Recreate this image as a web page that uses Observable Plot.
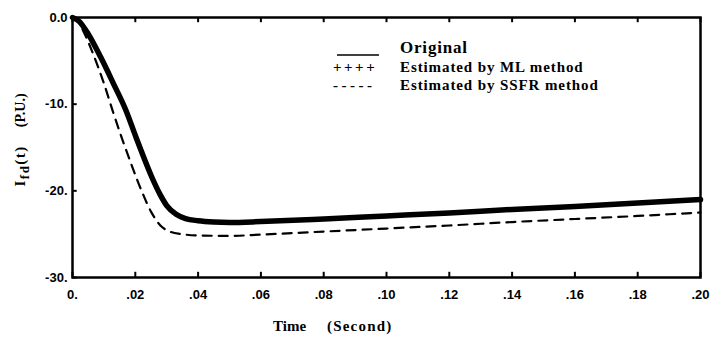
<!DOCTYPE html>
<html>
<head>
<meta charset="utf-8">
<script src="https://cdn.jsdelivr.net/npm/d3@7"></script>
<script src="https://cdn.jsdelivr.net/npm/@observablehq/plot@0.6"></script>
<style>
  body { margin: 0; background: #fff; }
  #chart svg { display: block; }
</style>
</head>
<body>
<div id="chart"></div>
<script>
// Field current I_fd(t) after the disturbance, in per unit, over 0–0.2 s.
const time = [0, 0.002, 0.005, 0.009, 0.013, 0.017, 0.020, 0.022, 0.025, 0.028, 0.030, 0.033, 0.036, 0.040, 0.045, 0.050, 0.060, 0.080, 0.100, 0.120, 0.140, 0.160, 0.180, 0.200];
const original = [0, -0.4, -1.9, -4.6, -7.6, -10.7, -13.6, -15.5, -18.2, -20.5, -21.7, -22.7, -23.2, -23.45, -23.6, -23.65, -23.55, -23.25, -22.9, -22.55, -22.15, -21.8, -21.4, -21.0];
const mlEstimate = [0, -0.4, -1.9, -4.6, -7.6, -10.7, -13.6, -15.5, -18.2, -20.5, -21.7, -22.7, -23.2, -23.45, -23.6, -23.65, -23.55, -23.25, -22.9, -22.55, -22.15, -21.8, -21.4, -21.0];

const ssfrTime = [0, 0.002, 0.004, 0.007, 0.010, 0.013, 0.016, 0.019, 0.022, 0.025, 0.028, 0.031, 0.035, 0.040, 0.050, 0.060, 0.080, 0.100, 0.120, 0.140, 0.160, 0.180, 0.200];
const ssfrEstimate = [0, -0.6, -2.0, -4.6, -7.6, -11.0, -14.2, -17.2, -20.0, -22.4, -24.0, -24.7, -25.0, -25.15, -25.2, -25.05, -24.7, -24.35, -24.0, -23.6, -23.25, -22.9, -22.5];

// Axis ticks and their printed labels
const xTicks = [0, 0.02, 0.04, 0.06, 0.08, 0.10, 0.12, 0.14, 0.16, 0.18, 0.20];
const xTickLabels = ["0.", ".02", ".04", ".06", ".08", ".10", ".12", ".14", ".16", ".18", ".20"];
const yTicks = [0, -10, -20, -30];
const yTickLabels = ["0.0", "-10.", "-20.", "-30."];

const legendLabels = ["Original", "Estimated by ML method", "Estimated by SSFR method"];
const legendSymbols = ["", "++++", "-----"];
const xTitle = ["Time", "(Second)"];
const yTitle = ["I", "fd", "(t)", "(P.U.)"];

const xDomain = [0, 0.2];
const yDomain = [-30, 0];

const rows = (ts, vs) => ts.map((t, i) => ({t, v: vs[i]}));
const sans = "'Liberation Sans', Arial, sans-serif";
const serif = "'Liberation Serif', 'Times New Roman', serif";

const plot = Plot.plot({
  width: 714,
  height: 341,
  marginLeft: 72,
  marginRight: 14,
  marginTop: 17,
  marginBottom: 64,
  style: {fontFamily: sans, fontSize: "13px", fontWeight: "bold", color: "#000", background: "#fff"},
  x: {domain: xDomain, ticks: xTicks, tickFormat: d => xTickLabels[xTicks.indexOf(d)], tickSize: 0, tickPadding: 12, label: null},
  y: {domain: yDomain, ticks: yTicks, tickFormat: d => yTickLabels[yTicks.indexOf(d)], tickSize: 0, tickPadding: 5, label: null},
  marks: [
    // SSFR estimate: dashed
    Plot.line(rows(ssfrTime, ssfrEstimate), {x: "t", y: "v", stroke: "#000", strokeWidth: 2.2, strokeDasharray: "9,7", curve: "monotone-x"}),
    // ML estimate: dense crosses merge into a heavy band
    Plot.line(rows(time, mlEstimate), {x: "t", y: "v", stroke: "#000", strokeWidth: 5.5, curve: "monotone-x"}),
    // Original response: solid
    Plot.line(rows(time, original), {x: "t", y: "v", stroke: "#000", strokeWidth: 2, curve: "monotone-x"}),
    // plot box
    Plot.frame({stroke: "#000", strokeWidth: 2.5}),
    // inward tick marks
    Plot.ruleX(xTicks, {x: d => d, y1: yDomain[0], y2: yDomain[0] + 0.6, stroke: "#000", strokeWidth: 2}),
    Plot.ruleX(xTicks, {x: d => d, y1: yDomain[1], y2: yDomain[1] - 0.6, stroke: "#000", strokeWidth: 2}),
    Plot.ruleY(yTicks, {y: d => d, x1: xDomain[0], x2: xDomain[0] + 0.0015, stroke: "#000", strokeWidth: 2})
  ]
});
document.getElementById("chart").appendChild(plot);

const svg = d3.select(plot);

// x-axis title
const xt = svg.append("text")
  .attr("y", 331)
  .attr("text-anchor", "start")
  .attr("font-family", serif)
  .attr("font-size", 15)
  .attr("font-weight", "bold")
  .attr("fill", "#000");
xt.append("tspan").attr("x", 273).text(xTitle[0]);
xt.append("tspan").attr("x", 327).attr("letter-spacing", 1.2).text(xTitle[1]);

// y-axis title, rotated, with subscript
const yt = svg.append("text")
  .attr("transform", "translate(25,140) rotate(-90)")
  .attr("text-anchor", "middle")
  .attr("font-family", serif)
  .attr("font-size", 15)
  .attr("font-weight", "bold")
  .attr("letter-spacing", 1.5)
  .attr("fill", "#000");
yt.append("tspan").text(yTitle[0]);
yt.append("tspan").attr("font-size", 13).attr("dy", 4).text(yTitle[1]);
yt.append("tspan").attr("dy", -4).text(yTitle[2]);
yt.append("tspan").attr("dx", 18).attr("font-size", 14).attr("letter-spacing", 0).text(yTitle[3]);

// legend
const lg = svg.append("g")
  .attr("font-family", serif)
  .attr("font-weight", "bold")
  .attr("text-anchor", "start")
  .attr("fill", "#000");
const legendY = [53, 72, 90];
lg.append("line").attr("x1", 337).attr("x2", 379).attr("y1", 55).attr("y2", 55)
  .attr("stroke", "#000").attr("stroke-width", 1.6);
legendLabels.forEach((label, i) => {
  lg.append("text")
    .attr("x", 400).attr("y", legendY[i])
    .attr("font-size", i === 0 ? 17 : 15)
    .attr("letter-spacing", i === 0 ? 0.8 : 0.9)
    .text(label);
  if (legendSymbols[i]) {
    lg.append("text")
      .attr("x", 333).attr("y", legendY[i])
      .attr("font-size", 15)
      .attr("letter-spacing", i === 1 ? 2.5 : 3.5)
      .text(legendSymbols[i]);
  }
});
</script>
</body>
</html>
